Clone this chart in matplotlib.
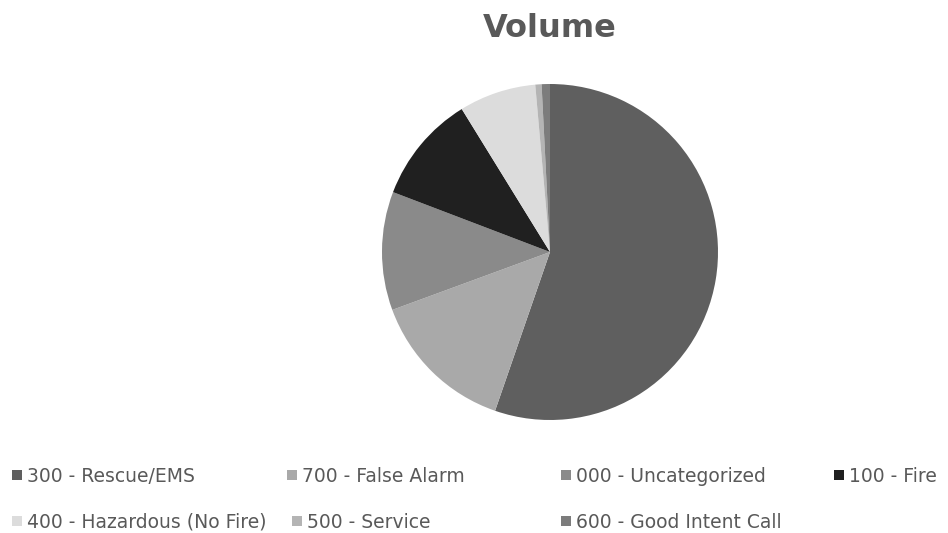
import matplotlib.pyplot as plt
from matplotlib.patches import Rectangle

# call volume by incident type
categories = ['300 - Rescue/EMS', '700 - False Alarm', '000 - Uncategorized', '100 - Fire',
              '400 - Hazardous (No Fire)', '500 - Service', '600 - Good Intent Call']
volume = [55.3, 14.1, 11.4, 10.4, 7.4, 0.6, 0.8]
colors = ['#5f5f5f', '#a9a9a9', '#8a8a8a', '#202020', '#dcdcdc', '#b4b4b4', '#7c7c7c']

W, H = 948, 533
fig = plt.figure(figsize=(W / 100, H / 100), dpi=100)
plt.rcParams['font.family'] = ['DejaVu Sans']

# pie area
cx, cy, r = 550, 252, 168
ax = fig.add_axes([(cx - r) / W, (H - cy - r) / H, 2 * r / W, 2 * r / H])
ax.pie(volume, colors=colors, startangle=90, counterclock=False,
       wedgeprops=dict(linewidth=0))
ax.set_xlim(-1, 1)
ax.set_ylim(-1, 1)
ax.set_aspect('auto')

fig.text(550 / W, 1 - 37 / H, 'Volume', ha='center', va='baseline',
         fontsize=23, fontweight='bold', color='#595959')

# legend laid out in fixed columns, two rows
col_x = [12, 287, 561, 834]
row_base = [482, 528]
slots = [(0, 0), (0, 1), (0, 2), (0, 3), (1, 0), (1, 1), (1, 2)]
slot_x = {(1, 1): 292}
for name, c, (row, col) in zip(categories, colors, slots):
    x = slot_x.get((row, col), col_x[col])
    yb = row_base[row]
    ym = yb - 7
    fig.patches.append(Rectangle((x / W, (H - ym - 5) / H), 10 / W, 10 / H,
                                 facecolor=c, edgecolor='none',
                                 transform=fig.transFigure))
    fig.text((x + 15) / W, 1 - yb / H, name, ha='left', va='baseline',
             fontsize=13.5, color='#595959')

fig.savefig('out.png', dpi=100, facecolor='white')
